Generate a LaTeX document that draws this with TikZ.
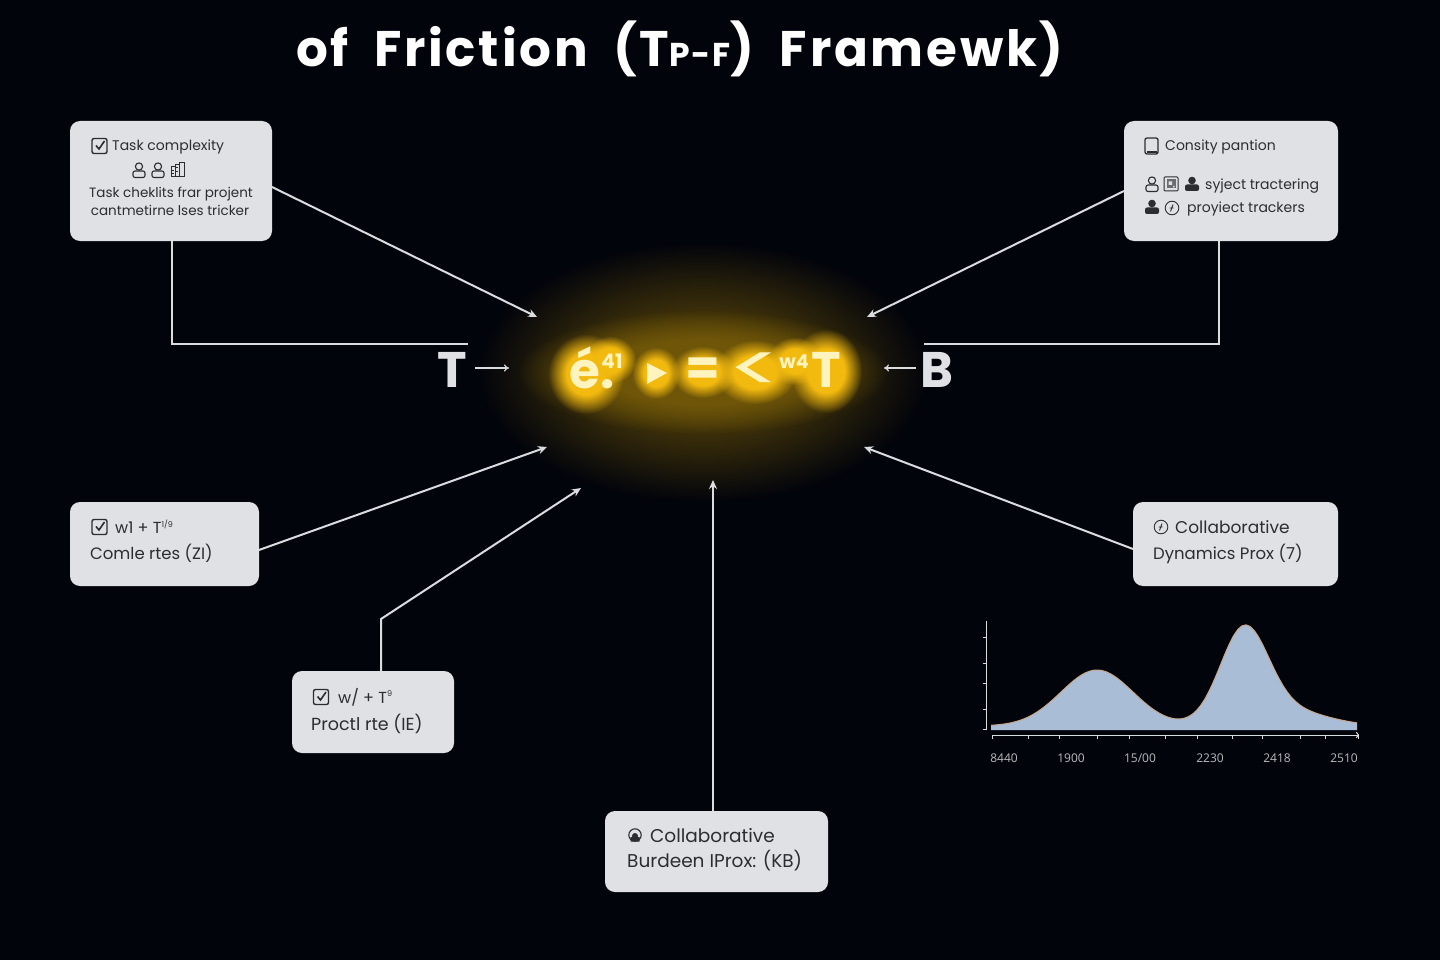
\documentclass[tikz,border=0pt]{standalone}
\usepackage{fontspec}
\setmainfont{Poppins}
\newfontfamily\numfont{Open Sans}
\newfontfamily\titlefont[LetterSpace=5.5,WordSpace=1.9]{Poppins}
\usetikzlibrary{positioning,arrows.meta,fadings}
\definecolor{bgdark}{HTML}{02040C}
\definecolor{boxgray}{HTML}{DFE1E4}
\definecolor{inkgray}{HTML}{2B2D31}
\definecolor{wiregray}{HTML}{DADCDF}
\definecolor{glowgold}{HTML}{F2B90F}
\definecolor{halogold}{HTML}{6E5508}
\definecolor{formcream}{HTML}{FFF3BE}
\definecolor{chartblue}{HTML}{A9BDD6}
\definecolor{charttan}{HTML}{C8A78A}
\tikzfading[name=softglow, inner color=transparent!0, outer color=transparent!100]
\pgfdeclareradialshading{glowmask}{\pgfpointorigin}{color(0bp)=(white); color(13bp)=(white); color(25bp)=(black); color(50bp)=(black)}
\pgfdeclarefading{plateauglow}{\pgfuseshading{glowmask}}
\tikzset{
  chkicon/.pic={
    \draw[inkgray, line width=1.4pt, rounded corners=2pt] (-7.5,-7.5) rectangle (7.5,7.5);
    \draw[inkgray, line width=1.6pt] (-3.5,-0.5) -- (-0.5,3) -- (5,-5);
  },
  usericon/.pic={
    \draw[inkgray, line width=1.1pt] (0,-3.5) circle (3.6);
    \draw[inkgray, line width=1.1pt, rounded corners=2pt] (-6,7.5) rectangle (6,1);
  },
  userfill/.pic={
    \fill[inkgray] (0,-3.5) circle (3.8);
    \fill[inkgray, rounded corners=2pt] (-7,7) rectangle (7,0.5);
  },
  barsicon/.pic={
    \draw[inkgray, line width=1pt] (-7,-3) rectangle (-3,7) (-3,-5) rectangle (1,7) (1,-7) rectangle (6,7);
    \draw[inkgray, line width=1pt] (-6,1) -- (-4,1) (-6,4) -- (-4,4) (-2,-2) -- (0,-2) (-2,2) -- (0,2);
  },
  tableticon/.pic={
    \draw[inkgray, line width=1.3pt, rounded corners=2pt] (-6.5,-8) rectangle (6.5,8);
    \draw[inkgray, line width=2pt] (-5,6.5) -- (5,6.5);
  },
  qricon/.pic={
    \draw[inkgray, line width=1pt, rounded corners=1pt] (-7,-7) rectangle (7,7);
    \fill[inkgray!70] (-4.5,-4.5) rectangle (4.5,4.5);
    \fill[boxgray] (-2.5,-2.5) rectangle (1,1) (2,2) rectangle (3.5,3.5);
  },
  circicon/.pic={
    \draw[inkgray, line width=0.9pt] (0,0) circle (6.8);
    \draw[inkgray, line width=0.9pt] (-1.5,3.5) -- (1,-3.5) (-2.5,0) -- (1.5,0);
  },
  headicon/.pic={
    \draw[inkgray, line width=1.1pt] (0,0) circle (6.2);
    \fill[inkgray] (-4.5,6.5) rectangle (4.5,2) (0,1) circle (3);
  },
}
\begin{document}
\begin{tikzpicture}[
  x=1pt, y=-1pt,
  declare function={chartcurve(\u)=726-56*exp(-0.5*((\u-1097)/36)^2)-91.5*exp(-0.5*((\u-1244)/24)^2)-16*exp(-0.5*((\u-1285)/40)^2);},
  box/.style={fill=boxgray, rounded corners=10pt, inner sep=0pt},
  lbl/.style={anchor=west, text=inkgray, inner sep=0pt, font=\fontsize{15}{15}\selectfont},
  smalllbl/.style={lbl, font=\fontsize{14}{14}\selectfont},
  tinylbl/.style={lbl, font=\fontsize{13.5}{13.5}\selectfont},
  biglbl/.style={lbl, font=\fontsize{16.5}{16.5}\selectfont},
  arrow/.style={draw=wiregray, line width=2pt, -{Stealth[length=9pt, width=8pt]}},
  wire/.style={draw=wiregray, line width=2pt},
  thinarrow/.style={draw=wiregray, line width=1.2pt, -{To[length=5pt, width=7pt]}},
  formula/.style={text=formcream, inner sep=0pt, font=\bfseries\fontsize{50}{50}\selectfont},
  sidevar/.style={text=boxgray, inner sep=0pt, font=\bfseries\fontsize{50}{50}\selectfont},
  axislbl/.style={text=wiregray!85!black, inner sep=0pt, font=\numfont\fontsize{12}{12}\selectfont},
]
\useasboundingbox[fill=bgdark] (0,0) rectangle (1440,960);

% ===== title =====
\node[text=white, inner sep=0pt, font=\titlefont\bfseries\fontsize{50}{50}\selectfont] (title) at (680,49)
  {of Friction (T{\fontsize{33}{33}\selectfont P-F}) Framewk)};

% ===== glow =====
\fill[halogold, path fading=softglow] (703,372) ellipse (225 and 130);
\fill[halogold, path fading=plateauglow] (703,372) ellipse (185 and 62);
\foreach \gx/\gy/\grx/\gry in {586/374/38/40, 610/360/26/24, 656/373/24/26, 703/372/32/26, 755/372/42/32, 795/361/28/24, 826/371/36/42}
  \fill[glowgold, path fading=plateauglow] (\gx,\gy) ellipse [x radius=\grx, y radius=\gry];

% ===== formula =====
\node[formula, font=\fontsize{50}{50}\selectfont\bfseries, anchor=base west] (fe) at (569,388) {é.};
\node[formula, font=\bfseries\fontsize{20}{20}\selectfont] (f41) at (612,361) {41};
\fill[formcream] (647,363) -- (667,373) -- (647,384) -- cycle;
\node[formula] (feq) at (703,372) {=};
\node[formula, font=\fontsize{65}{65}\selectfont, xscale=1.55] (flt) at (755,372) {<};
\node[formula, font=\bfseries\fontsize{19}{19}\selectfont] (fw4) at (794,362) {w4};
\node[formula] (fT) at (826,370) {T};

% ===== side variables =====
\node[sidevar] (sT) at (452,370) {T};
\coordinate (sTend) at (509,368);
\draw[thinarrow] (475,368) -- (sTend);
\node[sidevar] (sB) at (937,370) {B};
\coordinate (sBend) at (884,368);
\draw[thinarrow] (916,368) -- (sBend);

% ===== boxes =====
\node[box, minimum width=202pt, minimum height=120pt] (task) at (171,181) {};
\node[box, minimum width=214pt, minimum height=120pt] (dens) at (1231,181) {};
\node[box, minimum width=189pt, minimum height=84pt] (compl) at (164.5,544) {};
\node[box, minimum width=162pt, minimum height=82pt] (proj) at (373,712) {};
\node[box, minimum width=205pt, minimum height=84pt] (dyn) at (1235.5,544) {};
\node[box, minimum width=223pt, minimum height=81pt] (burd) at (716.5,851.5) {};

% ===== top left =====
\pic at (99.5,146) {chkicon};
\node[smalllbl] (task1) at (112,147) {Task complexity};
\pic at (139,170) {usericon};
\pic at (158,170) {usericon};
\pic at (178,170) {barsicon};
\node[tinylbl, anchor=center] (task2) at (171,194) {Task cheklits frar projent};
\node[tinylbl, anchor=center] (task3) at (170,210) {cantmetirne lses tricker};

% ===== top right =====
\pic at (1151.5,146) {tableticon};
\node[smalllbl] (dens1) at (1165,147) {Consity pantion};
\pic at (1152,184) {usericon};
\pic at (1171,184) {qricon};
\pic at (1192,184) {userfill};
\node[smalllbl] (dens2) at (1205,186) {syject tractering};
\pic at (1152,207) {userfill};
\pic at (1172,208) {circicon};
\node[smalllbl] (dens3) at (1187,209) {proyiect trackers};

% ===== left boxes =====
\pic at (99.5,527) {chkicon};
\node[lbl, font=\fontsize{16}{16}\selectfont] (compl1) at (115,527) {w1 + T\textsuperscript{\fontsize{8}{8}\selectfont 1/9}};
\node[biglbl] (compl2) at (90,553) {Comle rtes (ZI)};
\pic at (321,697) {chkicon};
\node[lbl, font=\fontsize{16}{16}\selectfont] (proj1) at (338,697) {w/ + T\textsuperscript{\fontsize{8}{8}\selectfont 9}};
\node[biglbl, font=\fontsize{17.5}{17.5}\selectfont] (proj2) at (311,724) {Proctl rte (IE)};

% ===== right and bottom boxes =====
\pic at (1161,527) {circicon};
\node[biglbl, font=\fontsize{17}{17}\selectfont] (dyn1) at (1175,527) {Collaborative};
\node[biglbl] (dyn2) at (1153,553.5) {Dynamics Prox (7)};
\pic at (635,835) {headicon};
\node[biglbl, font=\fontsize{18.5}{18.5}\selectfont] (burd1) at (650,836) {Collaborative};
\node[biglbl, font=\fontsize{18.5}{18.5}\selectfont] (burd2) at (627,861) {Burdeen IProx: (KB)};

% ===== connectors =====
\coordinate (hubTL) at (537,317);
\coordinate (hubTR) at (867,317);
\coordinate (hubL) at (547,447);
\coordinate (hubLL) at (581,488);
\coordinate (hubB) at (713,480);
\coordinate (hubR) at (864,447);
\coordinate (barL) at (468,344);
\coordinate (barR) at (924,344);
\coordinate (bendP) at (381,619);
\draw[arrow] (272,187) -- (hubTL);
\draw[arrow] (1124,191) -- (hubTR);
\draw[arrow] (259,550) -- (hubL);
\draw[arrow] (1133,549) -- (hubR);
\draw[wire] (172,241) |- (barL);
\draw[wire] (1219,241) |- (barR);
\draw[arrow] (381,671) -- (bendP) -- (hubLL);
\draw[arrow] (713,811) -- (hubB);

% ===== chart =====
\fill[chartblue] (991,730) -- plot[domain=991:1357, samples=90] (\x,{chartcurve(\x)}) -- (1357,730) -- cycle;
\draw[charttan, line width=1pt] plot[domain=991:1357, samples=90] (\x,{chartcurve(\x)});
\draw[wiregray, line width=1pt] (986,621) -- (986,730);
\foreach \ty in {637,663,683,709,729}
  \draw[wiregray, line width=0.8pt] (983,\ty) -- (986,\ty);
\draw[wiregray, line width=1pt, -{To[length=3pt, width=6pt]}] (992,735) -- (1359,735);
\foreach \tx in {992,1028,1059,1097,1129,1165,1197,1232,1262,1300,1325,1358}
  \draw[wiregray, line width=0.8pt] (\tx,735) -- (\tx,739);
\node[axislbl] (xa) at (1004,758) {8440};
\node[axislbl] (xb) at (1071,758) {1900};
\node[axislbl] (xc) at (1140,758) {15/00};
\node[axislbl] (xd) at (1210,758) {2230};
\node[axislbl] (xe) at (1277,758) {2418};
\node[axislbl] (xf) at (1344,758) {2510};
\end{tikzpicture}
\end{document}
